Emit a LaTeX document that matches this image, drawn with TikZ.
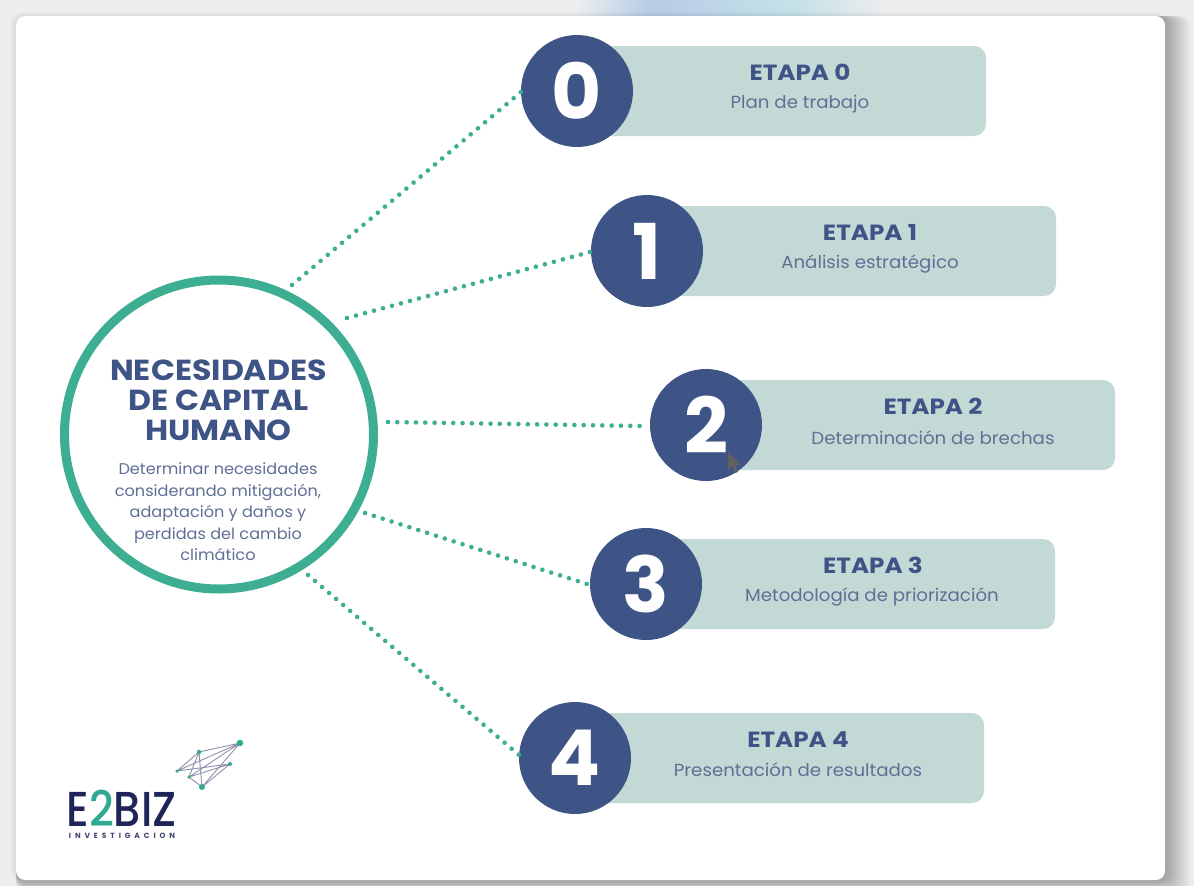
\documentclass[tikz,border=0pt]{standalone}
\usepackage{fontspec}
\setmainfont{Poppins}
\newfontfamily\numfont{Poppins}[UprightFont=* Bold]
\newfontfamily\titlefont{Poppins}[UprightFont=* Bold,FakeStretch=1.12]
\newfontfamily\hubfont{Poppins}[UprightFont=* Bold,FakeStretch=1.09]
\newfontfamily\subfont{Poppins}[FakeStretch=1.04]
\newfontfamily\logofont{Poppins}[UprightFont=* Medium,FakeStretch=0.88]
\newcommand{\lsp}{\hspace{3.9pt}}
\usetikzlibrary{calc,positioning}
\definecolor{navy}{HTML}{3F5486}
\definecolor{teal}{HTML}{3DAE92}
\definecolor{bar}{HTML}{C3D9D6}
\definecolor{subtxt}{HTML}{5F6F95}
\definecolor{logonavy}{HTML}{1F2558}
\definecolor{logoteal}{HTML}{2FA98F}
\definecolor{pagebg}{HTML}{EEEEEF}
\definecolor{glowa}{HTML}{B7CCE6}
\definecolor{glowb}{HTML}{C6E2E8}
\tikzset{
  x=1pt,y=-1pt,
  numcirc/.style={circle,fill=navy,minimum size=112pt,inner sep=0pt,text=white,font=\numfont\fontsize{77}{77}\selectfont},
  barbox/.style={fill=bar,rounded corners=12pt},
  bartitle/.style={text=navy,font=\titlefont\fontsize{22}{24}\selectfont,inner sep=0pt},
  barsub/.style={text=subtxt,font=\subfont\fontsize{17.5}{20}\selectfont,inner sep=0pt},
  dotline/.style={draw=teal,line width=4.6pt,line cap=round,dash pattern=on 0pt off #1pt},
  logodot/.style={circle,fill=logoteal,inner sep=0pt,minimum size=#1},
  logoline/.style={draw=logonavy!50,line width=0.9pt},
}
\begin{document}
\begin{tikzpicture}
\useasboundingbox (0,0) rectangle (1194,886);
\fill[pagebg] (0,0) rectangle (1194,886);
% top glow
\shade[left color=pagebg,right color=glowa] (575,0) rectangle (650,16);
\shade[left color=glowa,right color=glowb] (650,0) rectangle (800,16);
\shade[left color=glowb,right color=pagebg] (800,0) rectangle (890,16);
% card shadow
\foreach \g in {1,...,26}{
  \fill[black,opacity=0.012,rounded corners=10pt] (16,16) rectangle (1165+\g,880+\g*0.5);
}
\foreach \g in {1,...,6}{
  \fill[black,opacity=0.012,rounded corners=10pt] (16-\g,16-\g*0.7) rectangle (1165,880);
}
\fill[white,rounded corners=9pt] (16,16) rectangle (1165,880);
% hub
\node[circle,draw=teal,line width=9pt,fill=white,minimum size=309pt,inner sep=0pt] (hub) at (219,434.5) {};
\node[text=navy,font=\hubfont\fontsize{29}{30}\selectfont,align=center,inner sep=0pt] (hubtitle) at (218.5,400.5) {NECESIDADES\\DE CAPITAL\\HUMANO};
\node[text=subtxt,font=\subfont\fontsize{15.5}{21.5}\selectfont,align=center,inner sep=0pt] (hubsub) at (218,512) {Determinar necesidades\\considerando mitigación,\\adaptación y daños y\\perdidas del cambio\\climático};
% bars
\fill[barbox] (577,46) rectangle (986,136);
\fill[barbox] (647,206) rectangle (1056,296);
\fill[barbox] (706,380) rectangle (1115,470);
\fill[barbox] (646,539) rectangle (1055,629);
\fill[barbox] (575,713) rectangle (984,803);
% numbered circles
\node[numcirc] (n0) at (577,91) {0};
\node[numcirc] (n1) at (647,251) {1};
\node[numcirc] (n2) at (706,425) {2};
\node[numcirc] (n3) at (646,584) {3};
\node[numcirc] (n4) at (575,758) {4};
% bar texts
\node[bartitle] (t0) at (800,72.5) {ETAPA 0};
\node[barsub] (s0) at (800,104) {Plan de trabajo};
\node[bartitle] (t1) at (870,232.5) {ETAPA 1};
\node[barsub] (s1) at (870,264) {Análisis estratégico};
\node[bartitle] (t2) at (933,406.5) {ETAPA 2};
\node[barsub] (s2) at (933,437.5) {Determinación de brechas};
\node[bartitle] (t3) at (873,565.5) {ETAPA 3};
\node[barsub] (s3) at (872,596.5) {Metodología de priorización};
\node[bartitle] (t4) at (798,739.5) {ETAPA 4};
\node[barsub] (s4) at (798,770) {Presentación de resultados};
% connectors
\coordinate (h0) at (292,285);
\coordinate (h1) at (347,318);
\coordinate (h2) at (388,422);
\coordinate (h3) at (365,513);
\coordinate (h4) at (308,575);
\coordinate (e0) at (521,92);
\coordinate (e1) at (590,252);
\coordinate (e2) at (640,426);
\coordinate (e3) at (587,584);
\coordinate (e4) at (519,755);
\draw[dotline=9.35] (h0) -- (e0);
\draw[dotline=9.32] (h1) -- (e1);
\draw[dotline=9.32] (h2) -- (e2);
\draw[dotline=9.31] (h3) -- (e3);
\draw[dotline=9.23] (h4) -- (e4);
% mouse cursor
\fill[black!62] (728,452) -- (728,470) -- (732,466) -- (735,473) -- (738,472) -- (735,465) -- (741,465) -- cycle;
% logo
\coordinate (la) at (240,743);
\coordinate (lb) at (199,752);
\coordinate (lc) at (177,771);
\coordinate (ld) at (230,764);
\coordinate (le) at (189,777);
\coordinate (lf) at (202,787);
\draw[logoline] (la) -- (lc) (la) -- (lb) (la) -- (lf) (lb) -- (lf) (lb) -- (le) (lb) -- (lc) (lc) -- (ld) (ld) -- (le) (ld) -- (lf) (le) -- (lf) (le) -- (la);
\node[logodot=6.5pt] (da) at (la) {};
\node[logodot=4.5pt] (db) at (lb) {};
\node[logodot=3.5pt] (dc) at (lc) {};
\node[logodot=4pt] (dd) at (ld) {};
\node[logodot=3.5pt] (de) at (le) {};
\node[logodot=6pt] (df) at (lf) {};
\node[text=logonavy,font=\logofont\fontsize{49}{49}\selectfont,inner sep=0pt] (logo) at (121.5,808) {E\textcolor{logoteal}{2}BIZ};
\node[text=logonavy!85,font=\numfont\fontsize{7.5}{8}\selectfont,inner sep=0pt] (logosub) at (122,835.5) {I\lsp N\lsp V\lsp E\lsp S\lsp T\lsp I\lsp G\lsp A\lsp C\lsp I\lsp O\lsp N};
\end{tikzpicture}
\end{document}
